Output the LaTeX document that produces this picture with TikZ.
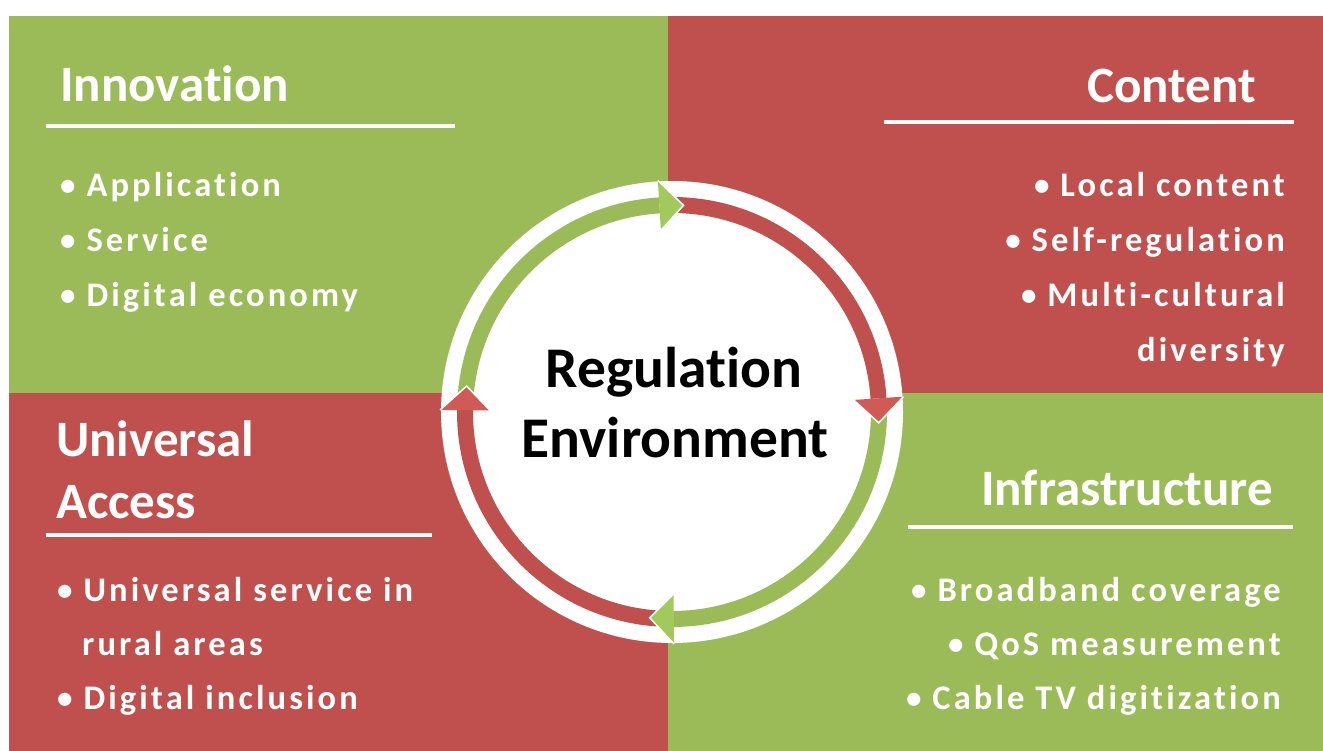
\documentclass[tikz,border=0pt]{standalone}
\usepackage{fontspec}
\setmainfont[Ligatures={NoCommon}]{Carlito}
\newfontfamily\itemfont[LetterSpace=9,Ligatures={NoCommon}]{Carlito}
\newcommand\smallbul{\raisebox{1pt}{\fontsize{31}{30}\selectfont •}}
\definecolor{qgreen}{HTML}{9BBB59}
\definecolor{qred}{HTML}{C0504D}
\definecolor{agreen}{HTML}{A2C95C}
\definecolor{ared}{HTML}{D15A57}
\tikzset{
  titletext/.style={font=\fontsize{51}{60}\selectfont\bfseries, text=white, inner sep=0pt},
  itemtext/.style={font=\itemfont\fontsize{34.5}{40}\selectfont\bfseries, text=white, inner sep=0pt},
  centertext/.style={font=\fontsize{57.5}{69}\selectfont\bfseries, text=black, inner sep=0pt},
  rule/.style={white, line width=4pt},
  band/.style={line width=16pt},
  headoutline/.style={white, line width=1.5pt, line join=miter}
}
\begin{document}
\begin{tikzpicture}[x=1pt,y=-1pt]
\useasboundingbox (0,0) rectangle (1323,751);
\fill[white] (0,0) rectangle (1323,751);
% quadrants
\fill[qgreen] (9,16) rectangle (668,393);
\fill[qred] (668,16) rectangle (1323,393);
\fill[qred] (9,393) rectangle (668,751);
\fill[qgreen] (668,393) rectangle (1323,751);

% titles
\node[titletext, anchor=base west] (innov) at (60,102) {Innovation};
\draw[rule] (46,126) -- (455,126);
\node[titletext, anchor=base east] (content) at (1256,103) {Content};
\draw[rule] (884,122) -- (1294,122);
\node[titletext, anchor=base west] (univ1) at (56,456) {Universal};
\node[titletext, anchor=base west] (univ2) at (56,518) {Access};
\draw[rule] (46,535) -- (432,535);
\node[titletext, anchor=base east] (infra) at (1273,505) {Infrastructure};
\draw[rule] (908,527) -- (1293,527);

% items top-left
\node[itemtext, anchor=base west] (i1) at (60,197) {\smallbul{} Application};
\node[itemtext, anchor=base west] (i2) at (60,252) {\smallbul{} Service};
\node[itemtext, anchor=base west] (i3) at (60,307) {\smallbul{} Digital economy};
% items top-right
\node[itemtext, anchor=base east] (c1) at (1285,197) {\smallbul{} Local content};
\node[itemtext, anchor=base east] (c2) at (1285,252) {\smallbul{} Self-regulation};
\node[itemtext, anchor=base east] (c3) at (1285,307) {\smallbul{} Multi-cultural};
\node[itemtext, anchor=base east] (c4) at (1285,362) {diversity};
% items bottom-left
\node[itemtext, anchor=base west] (u1) at (57,601) {\smallbul{} Universal service in};
\node[itemtext, anchor=base west] (u2) at (82,655) {rural areas};
\node[itemtext, anchor=base west] (u3) at (57,709) {\smallbul{} Digital inclusion};
% items bottom-right
\node[itemtext, anchor=base east] (f1) at (1281,601) {\smallbul{} Broadband coverage};
\node[itemtext, anchor=base east] (f2) at (1281,655) {\smallbul{} QoS measurement};
\node[itemtext, anchor=base east] (f3) at (1281,709) {\smallbul{} Cable TV digitization};

% circle
\coordinate (ctr) at (672,412);
\begin{scope}[shift={(ctr)}, yscale=-1]
  \fill[white] (0,0) circle[radius=231];
  \draw[band, qgreen] (176:207) arc[start angle=176, end angle=93.5, radius=207];
  \draw[band, qred] (90:207) arc[start angle=90, end angle=3.8, radius=207];
  \draw[band, qgreen] (0.5:207) arc[start angle=0.5, end angle=-89.5, radius=207];
  \draw[band, qred] (-93:207) arc[start angle=-93, end angle=-180.5, radius=207];
  % arrowheads
  \fill[agreen] (93.5:182) -- (93.5:232) -- (86.8:207) -- cycle;
  \draw[headoutline] (93.5:232) -- (86.8:207) -- (93.5:182);
  \fill[ared] (3.8:182) -- (3.8:232) -- (-3:207) -- cycle;
  \draw[headoutline] (3.8:232) -- (-3:207) -- (3.8:182);
  \fill[agreen] (-89.5:182) -- (-89.5:232) -- (-96.2:207) -- cycle;
  \draw[headoutline] (-89.5:232) -- (-96.2:207) -- (-89.5:182);
  \fill[ared] (179.5:182) -- (179.5:232) -- (172.8:207) -- cycle;
  \draw[headoutline] (179.5:232) -- (172.8:207) -- (179.5:182);
\end{scope}
\node[centertext, anchor=base] (reg1) at (674,388) {Regulation};
\node[centertext, anchor=base] (reg2) at (675,457) {Environment};
\end{tikzpicture}
\end{document}
